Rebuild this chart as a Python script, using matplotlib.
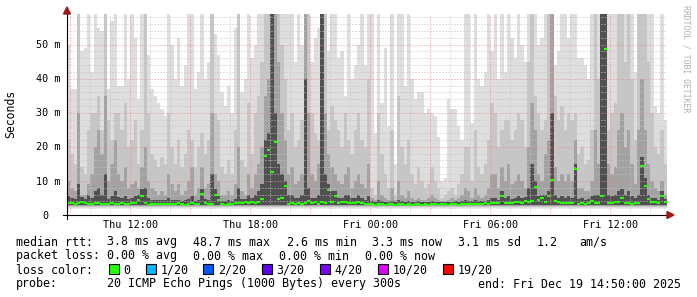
import matplotlib
matplotlib.use("Agg")
import matplotlib.pyplot as plt
import matplotlib.dates as mdates
from matplotlib.patches import Rectangle, Polygon
from datetime import datetime, timedelta
import numpy as np

# ---------------- data (ms, 10-minute columns from Thu 08:50 to Fri 14:50) -------------
start_time = datetime(2025, 12, 18, 8, 50)
step_minutes = 10

median_ms = [
    3.4, 3.6, 3.3, 3.5, 3.8, 3.4, 3.2, 3.3, 3.6, 3.4,
    3.2, 3.3, 3.1, 3.4, 3.2, 3.3, 3.5, 3.3, 3.2, 3.4,
    3.6, 4.4, 5.6, 3.4, 3.0, 3.1, 3.3, 3.2, 3.1, 3.3,
    3.2, 3.1, 3.3, 3.4, 3.2, 3.0, 3.2, 3.4, 3.3, 3.2,
    6.1, 3.4, 3.2, 3.3, 6.0, 4.4, 3.2, 3.0, 3.1, 3.3,
    3.5, 3.4, 3.6, 3.8, 3.5, 3.7, 3.6, 3.9, 4.7, 17.3,
    19.1, 12.5, 21.5, 4.7, 5.0, 8.5, 3.3, 3.5, 3.2, 3.4,
    3.3, 3.6, 4.2, 3.4, 3.7, 3.3, 3.9, 3.6, 7.2, 3.8,
    5.6, 3.5, 3.7, 3.9, 3.6, 3.4, 3.5, 3.7, 3.4, 3.2,
    3.1, 3.3, 3.0, 3.1, 3.2, 3.0, 3.1, 3.3, 3.0, 3.1,
    3.2, 3.0, 3.1, 3.0, 3.1, 3.2, 3.0, 3.1, 3.0, 3.2,
    3.1, 3.0, 3.2, 3.1, 3.0, 3.1, 3.3, 3.0, 3.1, 3.2,
    3.3, 3.2, 3.1, 3.3, 3.2, 3.4, 3.3, 3.6, 3.5, 3.4,
    5.6, 3.4, 3.6, 3.5, 3.7, 3.8, 3.6, 4.0, 3.9, 4.1,
    8.2, 4.3, 5.0, 3.9, 5.6, 10.3, 4.0, 3.8, 3.6, 3.5,
    3.4, 3.6, 13.6, 3.3, 3.5, 3.2, 3.4, 4.0, 3.6, 3.4,
    5.5, 48.7, 3.4, 3.5, 3.7, 3.9, 5.0, 3.6, 3.4, 3.3,
    3.5, 3.4, 14.5, 8.5, 4.6, 3.7, 3.8, 3.5, 5.6, 3.7,
]

# upper edge of the lightest smoke layer (max ping)
smoke_top1 = [
    50, 37, 37, 59, 48, 49, 59, 42, 59, 55,
    54, 59, 37, 57, 59, 38, 38, 59, 40, 59,
    52, 34, 59, 59, 47, 37, 35, 33, 31, 29,
    59, 50, 40, 52, 38, 44, 59, 59, 37, 42,
    59, 40, 45, 59, 53, 47, 36, 32, 38, 30,
    55, 59, 36, 40, 59, 46, 50, 59, 59, 59,
    59, 59, 59, 59, 59, 59, 59, 59, 45, 59,
    50, 59, 59, 45, 52, 55, 59, 59, 48, 59,
    59, 46, 48, 35, 59, 40, 44, 50, 59, 44,
    59, 59, 24, 59, 33, 49, 26, 59, 15, 59,
    59, 38, 59, 40, 34, 36, 36, 30, 31, 30,
    29, 23, 10, 11, 34, 31, 31, 26, 22, 59,
    59, 27, 59, 40, 38, 42, 59, 48, 59, 40,
    59, 42, 59, 52, 46, 59, 50, 45, 59, 59,
    59, 50, 52, 59, 59, 59, 44, 48, 59, 59,
    52, 59, 59, 46, 46, 44, 40, 59, 59, 59,
    59, 59, 59, 59, 59, 59, 59, 59, 59, 59,
    42, 59, 59, 59, 59, 59, 32, 30, 59, 28,
]

smoke_top2 = [
    22, 18, 15, 59, 14, 12, 25, 30, 30, 35,
    25, 59, 28, 22, 30, 30, 25, 33, 20, 22,
    28, 15, 25, 59, 30, 18, 16, 14, 17, 15,
    30, 20, 15, 22, 14, 18, 25, 22, 14, 20,
    24, 18, 22, 59, 30, 28, 14, 12, 16, 12,
    25, 59, 16, 14, 33, 18, 30, 35, 45, 59,
    59, 59, 59, 59, 50, 40, 25, 30, 20, 22,
    28, 59, 59, 30, 24, 22, 59, 59, 25, 32,
    28, 25, 20, 30, 22, 18, 25, 30, 22, 20,
    40, 8, 6, 30, 18, 12, 8, 25, 6, 35,
    20, 15, 22, 12, 9, 14, 10, 8, 9, 14,
    10, 8, 5, 6, 7, 8, 6, 9, 12, 20,
    20, 10, 25, 14, 12, 15, 22, 33, 30, 20,
    25, 28, 28, 22, 25, 30, 28, 20, 45, 59,
    35, 30, 25, 28, 59, 59, 35, 28, 32, 25,
    30, 28, 30, 18, 20, 15, 16, 25, 59, 40,
    59, 59, 25, 30, 33, 59, 59, 45, 59, 40,
    22, 59, 59, 59, 45, 30, 20, 18, 25, 15,
]

smoke_top3 = [
    10, 8, 7, 30, 6, 6, 9, 12, 20, 25,
    18, 35, 10, 15, 22, 12, 10, 14, 8, 9,
    10, 8, 14, 20, 10, 8, 7, 6, 7, 6,
    12, 9, 7, 9, 6, 7, 10, 14, 6, 8,
    14, 8, 9, 30, 12, 10, 6, 6, 7, 6,
    9, 20, 7, 6, 12, 8, 12, 15, 20, 35,
    40, 59, 59, 45, 30, 22, 12, 14, 9, 10,
    12, 59, 30, 12, 10, 15, 59, 30, 18, 14,
    12, 10, 9, 12, 14, 8, 10, 12, 9, 8,
    15, 5, 4.5, 10, 6, 5, 4.5, 8, 4.5, 10,
    6, 5, 7, 5, 4.5, 5, 4.5, 4.5, 5, 6,
    5, 4.5, 4, 4, 4.5, 5, 4.5, 5, 6, 8,
    7, 5, 8, 6, 5, 6, 8, 12, 12, 8,
    14, 10, 15, 9, 10, 12, 10, 8, 20, 33,
    25, 12, 10, 18, 22, 59, 14, 10, 12, 10,
    12, 10, 22, 8, 8, 7, 7, 10, 25, 15,
    59, 59, 15, 12, 14, 25, 30, 20, 25, 15,
    9, 25, 40, 25, 15, 10, 8, 7, 10, 6,
]

smoke_top4 = [
    5.5, 5.0, 4.8, 9.0, 5.2, 4.8, 6.0, 5.0, 7.0, 8.0,
    6.0, 12.0, 4.8, 5.5, 7.0, 5.2, 5.0, 5.5, 4.8, 5.0,
    5.5, 6.0, 7.5, 8.0, 5.0, 4.5, 4.5, 4.3, 4.5, 4.3,
    5.0, 4.5, 4.3, 4.5, 4.2, 4.3, 4.8, 5.5, 4.2, 4.5,
    7.5, 4.6, 4.5, 12.0, 7.5, 5.5, 4.2, 4.2, 4.4, 4.2,
    4.8, 8.0, 4.6, 4.8, 6.0, 5.0, 6.0, 7.0, 9.0, 22.0,
    24.0, 59.0, 30.0, 15.0, 12.0, 10.0, 6.0, 6.0, 5.0, 5.0,
    6.0, 40.0, 8.0, 5.0, 5.0, 6.0, 59.0, 12.0, 9.0, 7.0,
    7.0, 5.0, 5.0, 6.0, 6.0, 5.0, 5.0, 6.0, 5.0, 4.5,
    5.5, 4.0, 3.8, 4.5, 4.0, 3.8, 3.8, 4.2, 3.8, 4.5,
    4.2, 3.9, 4.2, 3.9, 3.8, 4.0, 3.8, 3.8, 3.9, 4.0,
    3.9, 3.8, 3.8, 3.8, 3.8, 3.9, 4.0, 3.8, 4.0, 4.5,
    4.2, 4.0, 4.5, 4.0, 4.0, 4.2, 4.5, 5.0, 5.0, 4.5,
    7.0, 5.0, 5.5, 4.8, 5.0, 5.5, 5.0, 5.2, 8.0, 15.0,
    10.0, 5.5, 6.0, 6.0, 7.0, 30.0, 6.0, 5.0, 5.5, 5.0,
    5.5, 5.0, 15.0, 4.8, 5.0, 4.5, 4.8, 5.5, 6.0, 6.0,
    59.0, 59.0, 6.0, 5.5, 6.0, 7.0, 7.5, 6.0, 7.0, 5.5,
    5.0, 6.0, 17.0, 11.0, 6.0, 5.0, 5.0, 4.5, 7.0, 4.8,
]

smoke_low = [2.1, 2.4, 2.6, 2.8]          # lower edge of each smoke layer (ms)
smoke_colors = ["#dedede", "#c6c6c6", "#a2a2a2", "#505050"]

y_max_ms = 59.0
xtick_labels = ["Thu 12:00", "Thu 18:00", "Fri 00:00", "Fri 06:00", "Fri 12:00"]
xtick_times = [datetime(2025, 12, 18, 12), datetime(2025, 12, 18, 18),
               datetime(2025, 12, 19, 0), datetime(2025, 12, 19, 6),
               datetime(2025, 12, 19, 12)]
ytick_values = [0, 10, 20, 30, 40, 50]

rtt_stats = ["3.8 ms avg", "48.7 ms max", "2.6 ms min", "3.3 ms now", "3.1 ms sd", "1.2", "am/s"]
loss_stats = ["0.00 % avg", "0.00 % max", "0.00 % min", "0.00 % now"]
loss_labels = ["0", "1/20", "2/20", "3/20", "4/20", "10/20", "19/20"]
loss_colors = ["#26ff00", "#00b8ff", "#0059ff", "#5e00ff", "#7e00ff", "#dd00ff", "#ff0000"]
probe_text = "20 ICMP Echo Pings (1000 Bytes) every 300s"
end_text = "end: Fri Dec 19 14:50:00 2025"

# ---------------- figure ----------------
W, H = 697, 297
MONO = "DejaVu Sans Mono"
fig = plt.figure(figsize=(W / 100, H / 100), dpi=100)
fig.patch.set_facecolor("white")

ax = fig.add_axes([67 / W, 1 - 215 / H, 600 / W, 201 / H])
N = len(median_ms)
t_edges = [start_time + timedelta(minutes=step_minutes * i) for i in range(N + 1)]
xe = mdates.date2num(t_edges)
ax.set_xlim(xe[0], xe[-1])
ax.set_ylim(0, y_max_ms)
for s in ax.spines.values():
    s.set_visible(False)
ax.set_xticks([])
ax.set_yticks([])
ax.patch.set_alpha(0)

def ext(a):
    a = np.asarray(a, dtype=float)
    return np.append(a, a[-1])

for top, low, col in zip([smoke_top1, smoke_top2, smoke_top3, smoke_top4],
                         smoke_low, smoke_colors):
    ax.fill_between(xe, low, ext(top), step="post", color=col, lw=0, zorder=1)

# grid (drawn over smoke, under median)
dots = (0, (1, 2))
for v in np.arange(2, y_max_ms, 2):
    if v % 10 == 0:
        ax.axhline(v, color="#e49494", lw=0.72, ls=dots, zorder=1.6)
    else:
        ax.axhline(v, color="#c4c4c4", lw=0.72, ls=dots, zorder=1.5)
hour = start_time.replace(minute=0) + timedelta(hours=1)
while hour < t_edges[-1]:
    xv = mdates.date2num(hour)
    if hour.hour % 3 == 0:
        ax.axvline(xv, color="#e49494", lw=0.72, ls=dots, zorder=1.6)
    else:
        ax.axvline(xv, color="#c4c4c4", lw=0.72, ls=dots, zorder=1.5)
    hour += timedelta(hours=1)

ax.hlines(median_ms, xe[:-1], xe[1:], colors="#26ff00", lw=1.5, zorder=3)

# ---------------- overlay in pixel coordinates ----------------
ov = fig.add_axes([0, 0, 1, 1])
ov.set_xlim(0, W)
ov.set_ylim(H, 0)
ov.axis("off")
ov.patch.set_alpha(0)

fig.canvas.draw()
def to_px(x, y):
    dx, dy = ax.transData.transform((x, y))
    return dx * W / fig.bbox.width, H - dy * H / fig.bbox.height

# axes lines and arrows
arrow_c = "#a01818"
ov.plot([63, 668], [215, 215], color="black", lw=0.8, zorder=5)
ov.plot([67, 67], [218.5, 13], color="black", lw=0.8, zorder=5)
ov.add_patch(Polygon([[667, 211.5], [674, 215], [667, 218.5]], closed=True,
                     color=arrow_c, zorder=6))
ov.add_patch(Polygon([[63.5, 14], [67, 7], [70.5, 14]], closed=True,
                     color=arrow_c, zorder=6))

# x tick labels
for lab, t in zip(xtick_labels, xtick_times):
    px, _ = to_px(mdates.date2num(t), 0)
    ov.text(px, 228.5, lab, ha="center", va="baseline", fontsize=7.3,
            family=MONO, color="black")

# y tick labels
for v in ytick_values:
    _, py = to_px(xe[0], v)
    if v == 0:
        ov.text(42.3, py + 3.6, "0", ha="left", va="baseline", fontsize=7.3, family=MONO)
    else:
        ov.text(35.7, py + 3.6, f"{v} m", ha="left", va="baseline", fontsize=7.3, family=MONO)

ov.text(10.8, 114, "Seconds", rotation=90, ha="center", va="center",
        fontsize=8.3, family=MONO)
ov.text(686, 59, "RRDTOOL / TOBI OETIKER", rotation=270, ha="center", va="center",
        fontsize=5.9, family=MONO, color="#b0b0b0")

# legend
FS = 8.37
rows_y = [245.5, 259.5, 273.5, 287.5]
ov.text(16, rows_y[0], "median rtt:", fontsize=FS, family=MONO, va="baseline")
for s, x in zip(rtt_stats, [107, 193, 286.7, 372, 458, 537, 579]):
    ov.text(x, rows_y[0], s, fontsize=FS, family=MONO, va="baseline")
ov.text(16, rows_y[1], "packet loss:", fontsize=FS, family=MONO, va="baseline")
for s, x in zip(loss_stats, [107, 193, 279, 365]):
    ov.text(x, rows_y[1], s, fontsize=FS, family=MONO, va="baseline")
ov.text(16, rows_y[2], "loss color:", fontsize=FS, family=MONO, va="baseline")
for lab, col, bx in zip(loss_labels, loss_colors, [108.5, 146, 203, 262, 319.5, 378, 442.5]):
    ov.add_patch(Rectangle((bx, 264.2), 10, 10, facecolor=col, edgecolor="black",
                           lw=0.8, zorder=5))
    ov.text(bx + 14.7, rows_y[2], lab, fontsize=FS, family=MONO, va="baseline")
ov.text(16, rows_y[3], "probe:", fontsize=FS, family=MONO, va="baseline")
ov.text(107, rows_y[3], probe_text, fontsize=FS, family=MONO, va="baseline")
ov.text(478, rows_y[3], end_text, fontsize=FS, family=MONO, va="baseline")

fig.savefig("out.png", dpi=100, facecolor="white")
